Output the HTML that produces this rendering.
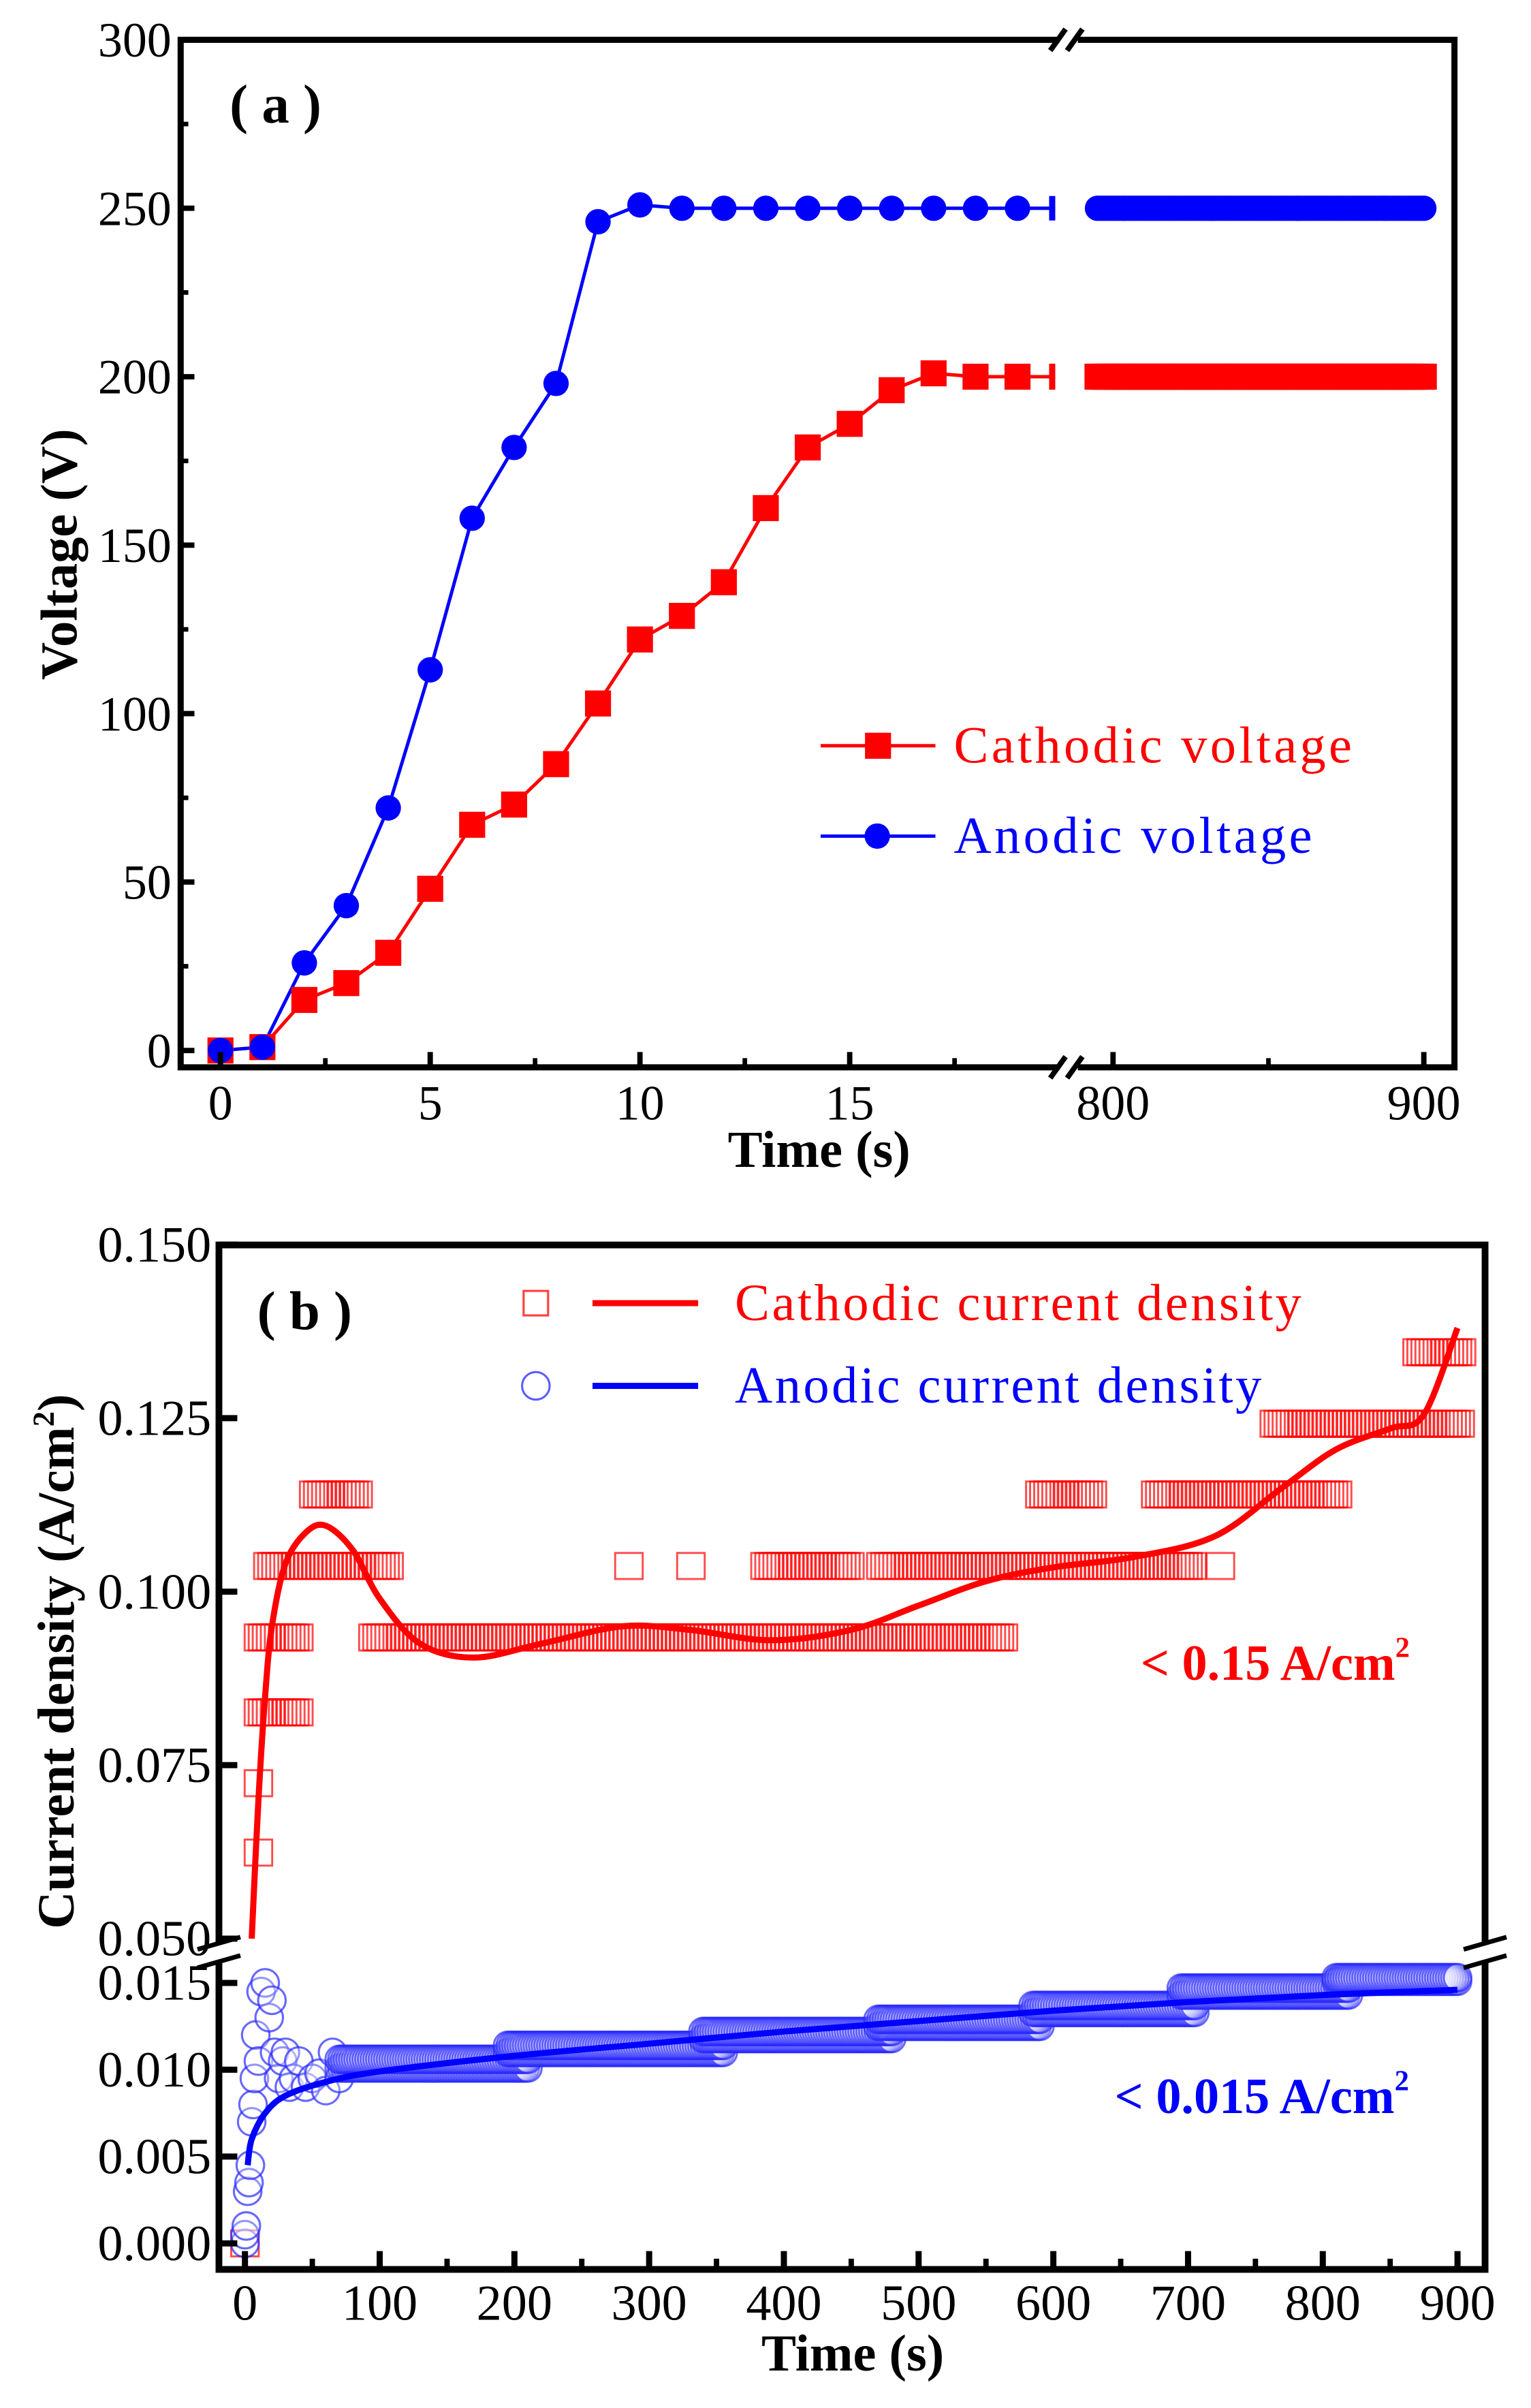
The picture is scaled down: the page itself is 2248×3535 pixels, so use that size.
<!DOCTYPE html>
<html><head><meta charset="utf-8"><style>
html,body{margin:0;padding:0;background:#fff;}
svg{display:block;font-family:"Liberation Serif",serif;}
</style></head><body>
<svg id="fig" width="2248" height="3535" viewBox="0 0 1000 1572.5" preserveAspectRatio="none" xmlns="http://www.w3.org/2000/svg">
<g id="pa"></g>
<g id="pb"></g>
</svg>
<script>
// ---- Panel (a) data ----
const aTime = [0,1,2,3,4,5,6,7,8,9,10,11,12,13,14,15,16,17,18,19];
const aCathodic = [0,1,15,20,29,48,67,73,85,103,122,129,139,161,179,186,196,201,200,200];
const aAnodic = [0,1,26,43,72,113,158,179,198,246,251,250,250,250,250,250,250,250,250,250];
const aLateStart = [795];
const aLateEnd = [900];
const aLateCathodic = [200];
const aLateAnodic = [250];
const aYTicks = [0,50,100,150,200,250,300];
const aXTicksLeft = [0,5,10,15];
const aXTicksRight = [800,900];

// ---- Panel (b) data ----
const catLevel = [0.0624,0.0724,0.0826,0.0934,0.0934,0.1037,0.1037,0.1037,0.1037,0.1037,0.1037,0.1140,0.1140,0.1140,0.1242,0.1345,0.0];
const catStart = [10,10,10,10,95,17,285,331,386,472,724,51,590,676,764,870,0];
const catEnd   = [10,10,40,42,565,108,285,331,449,705,724,85,630,812,903,903,0];
const anoEarlyT = [0,0,1,2,3,4,5,6,7,8,10,12,15,18,20,22,25,28,30,33,36,40,45,50,55,60,65,70];
const anoEarlyV = [0,0.0005,0.001,0.003,0.0035,0.0045,0.007,0.008,0.0095,0.012,0.0105,0.0145,0.015,0.013,0.014,0.011,0.0095,0.0105,0.011,0.009,0.0095,0.0105,0.009,0.0095,0.0098,0.0088,0.011,0.0095];
const anoLevel = [0.0101,0.0106,0.0110,0.0114,0.0118,0.0122,0.0125,0.0129,0.0133,0.0137,0.0143,0.0147,0.0151,0.0153];
const anoStart = [70,70,195,195,340,340,470,470,585,585,695,695,810,810];
const anoEnd   = [210,210,355,355,480,480,590,590,705,705,820,820,900,900];
const catFitT = [5,10,15,20,30,45,60,80,100,130,170,220,280,330,390,450,500,550,600,660,720,770,810,850,875,900];
const catFitV = [0.050,0.070,0.085,0.095,0.104,0.1085,0.1095,0.106,0.099,0.0925,0.0905,0.0925,0.095,0.0945,0.093,0.0945,0.098,0.1015,0.1035,0.105,0.108,0.115,0.1205,0.1235,0.1255,0.138];
const anoFitT = [2,5,15,30,60,100,200,300,400,500,600,700,800,900];
const anoFitV = [0.0045,0.006,0.0075,0.0085,0.0093,0.0099,0.0108,0.0115,0.0122,0.0128,0.0134,0.0139,0.0143,0.0146];
const bYTicksUp = [0.050,0.075,0.100,0.125,0.150];
const bYTicksLo = [0.000,0.005,0.010,0.015];
const bXTicks = [0,100,200,300,400,500,600,700,800,900];

const NS="http://www.w3.org/2000/svg";
function mk(parent,tag,attrs,text){const e=document.createElementNS(NS,tag);for(const k in attrs)e.setAttribute(k,attrs[k]);if(text!==undefined)e.textContent=text;parent.appendChild(e);return e;}
function smoothPath(pts){let d="M"+pts[0][0]+","+pts[0][1];for(let i=0;i<pts.length-1;i++){const p0=pts[Math.max(0,i-1)],p1=pts[i],p2=pts[i+1],p3=pts[Math.min(pts.length-1,i+2)];const c1x=p1[0]+(p2[0]-p0[0])/6,c1y=p1[1]+(p2[1]-p0[1])/6,c2x=p2[0]-(p3[0]-p1[0])/6,c2y=p2[1]-(p3[1]-p1[1])/6;d+=" C"+c1x+","+c1y+" "+c2x+","+c2y+" "+p2[0]+","+p2[1];}return d;}

// ===== Panel A =====
const pa=document.getElementById('pa');
const xA=t=> t<=25 ? 144+27.4*t : 727+(t-800)*2.03;
const yA=v=> 686-v*2.2;
const L=118,R=950,T=26,B=697;
const cp=aTime.map((t,i)=>xA(t)+","+yA(aCathodic[i])).join(" ")+" "+(xA(19.9))+","+yA(200);
let e=mk(pa,'polyline',{points:cp,fill:'none',stroke:'#ff0000','stroke-width':2.2});

const ap=aTime.map((t,i)=>xA(t)+","+yA(aAnodic[i])).join(" ")+" "+(xA(19.9))+","+yA(250);
e=mk(pa,'polyline',{points:ap,fill:'none',stroke:'#0000ff','stroke-width':2.2});

aTime.forEach((t,i)=>{
  let m=mk(pa,'rect',{x:xA(t)-8.5,y:yA(aCathodic[i])-8.5,width:17,height:17,fill:'#ff0000'});
  
  let c=mk(pa,'circle',{cx:xA(t),cy:yA(aAnodic[i]),r:8.3,fill:'#0000ff'});
  
});
mk(pa,'rect',{x:xA(19.9)-4,y:yA(200)-8.5,width:4,height:17,fill:'#ff0000'});
mk(pa,'rect',{x:xA(19.9)-4,y:yA(250)-8,width:4,height:16,fill:'#0000ff'});
aLateStart.forEach((s,i)=>{
  for(let t=s;t<=aLateEnd[i];t+=1){
    let m=mk(pa,'rect',{x:xA(t)-8.5,y:yA(aLateCathodic[i])-8.5,width:17,height:17,fill:'#ff0000'});
    
    let c=mk(pa,'circle',{cx:xA(t),cy:yA(aLateAnodic[i]),r:8.3,fill:'#0000ff'});
    
  }
});
e=mk(pa,'rect',{x:L,y:T,width:R-L,height:B-T,fill:'none',stroke:'#000','stroke-width':4});

[T,B].forEach(y=>{
  mk(pa,'rect',{x:692,y:y-5,width:12,height:10,fill:'#fff'});
  mk(pa,'line',{x1:686,y1:y+7,x2:696,y2:y-7,stroke:'#000','stroke-width':3.5});
  mk(pa,'line',{x1:697,y1:y+7,x2:707,y2:y-7,stroke:'#000','stroke-width':3.5});
});
aYTicks.forEach(v=>{
  mk(pa,'line',{x1:L,y1:yA(v),x2:L+9,y2:yA(v),stroke:'#000','stroke-width':3.5});
  let t=mk(pa,'text',{x:L-6,y:yA(v)+11,'text-anchor':'end','font-size':32},String(v));
  
});
for(let v=25;v<300;v+=50){mk(pa,'line',{x1:L,y1:yA(v),x2:L+5,y2:yA(v),stroke:'#000','stroke-width':3});}
aXTicksLeft.forEach(v=>{
  mk(pa,'line',{x1:xA(v),y1:B,x2:xA(v),y2:B-10,stroke:'#000','stroke-width':3.5});
  let t=mk(pa,'text',{x:xA(v),y:B+34,'text-anchor':'middle','font-size':32},String(v));
  
});
[2.5,7.5,12.5,17.5].forEach(v=>mk(pa,'line',{x1:xA(v),y1:B,x2:xA(v),y2:B-6,stroke:'#000','stroke-width':3}));
aXTicksRight.forEach(v=>{
  mk(pa,'line',{x1:xA(v),y1:B,x2:xA(v),y2:B-10,stroke:'#000','stroke-width':3.5});
  let t=mk(pa,'text',{x:xA(v),y:B+34,'text-anchor':'middle','font-size':32},String(v));
  
});
mk(pa,'line',{x1:xA(850),y1:B,x2:xA(850),y2:B-6,stroke:'#000','stroke-width':3});
e=mk(pa,'text',{x:535,y:762,'text-anchor':'middle','font-size':34,'font-weight':'bold'},'Time (s)');

e=mk(pa,'text',{x:0,y:0,transform:'translate(50,362) rotate(-90)','text-anchor':'middle','font-size':34,'font-weight':'bold'},'Voltage (V)');

e=mk(pa,'text',{x:150,y:80,'font-size':36,'font-weight':'bold'},'( a )');

let lg=mk(pa,'g',{});
mk(lg,'line',{x1:536,y1:487,x2:611,y2:487,stroke:'#ff0000','stroke-width':2.2});
mk(lg,'rect',{x:565,y:478.5,width:17,height:17,fill:'#ff0000'});
e=mk(lg,'text',{x:623,y:498,'font-size':34,fill:'#ff0000',textLength:260},'Cathodic voltage');

mk(lg,'line',{x1:536,y1:546,x2:611,y2:546,stroke:'#0000ff','stroke-width':2.2});
mk(lg,'circle',{cx:573,cy:546,r:8.3,fill:'#0000ff'});
e=mk(lg,'text',{x:623,y:557,'font-size':34,fill:'#0000ff',textLength:234},'Anodic voltage');


// ===== Panel B =====
const pb=document.getElementById('pb');
const BL=143,BR=970,BT=813,BB=1482;
const xB=t=>160+0.88*t;
const yUp=v=>1266-(v-0.05)*4532;
const yLo=v=>1465-v*11340;
const yB=v=> v<0.03 ? yLo(v) : yUp(v);
catLevel.forEach((lv,i)=>{
  for(let t=catStart[i];t<=catEnd[i];t+=3){
    let r=mk(pb,'rect',{x:xB(t)-9,y:yB(lv)-8.5,width:18,height:17,fill:'none',stroke:'rgba(255,0,0,0.7)','stroke-width':1.3});
    
  }
});
anoEarlyT.forEach((t,i)=>{
  let c=mk(pb,'circle',{cx:xB(t),cy:yB(anoEarlyV[i]),r:9,fill:'rgba(255,255,255,0.3)',stroke:'rgba(40,40,255,0.7)','stroke-width':1.4});
  
});
anoLevel.forEach((lv,i)=>{
  for(let t=anoStart[i];t<=anoEnd[i];t+=2){
    let c=mk(pb,'circle',{cx:xB(t),cy:yLo(lv),r:9,fill:'rgba(255,255,255,0.2)',stroke:'rgba(40,40,255,0.7)','stroke-width':1.4});
    
  }
});
e=mk(pb,'path',{d:smoothPath(catFitT.map((t,i)=>[xB(t),yUp(catFitV[i])])),fill:'none',stroke:'#ff0000','stroke-width':4});

e=mk(pb,'path',{d:smoothPath(anoFitT.map((t,i)=>[xB(t),yLo(anoFitV[i])])),fill:'none',stroke:'#0000ff','stroke-width':4});

e=mk(pb,'rect',{x:BL,y:BT,width:BR-BL,height:BB-BT,fill:'none',stroke:'#000','stroke-width':4.4});

[BL,BR].forEach(x=>{
  mk(pb,'rect',{x:x-4,y:1269,width:8,height:11,fill:'#fff'});
  mk(pb,'line',{x1:x-14,y1:1273,x2:x+14,y2:1265,stroke:'#000','stroke-width':3});
  mk(pb,'line',{x1:x-14,y1:1285,x2:x+14,y2:1277,stroke:'#000','stroke-width':3});
});
bYTicksUp.forEach(v=>{
  mk(pb,'line',{x1:BL,y1:yUp(v),x2:BL+12,y2:yUp(v),stroke:'#000','stroke-width':4});
  let t=mk(pb,'text',{x:BL-5,y:yUp(v)+11,'text-anchor':'end','font-size':33},v.toFixed(3));
  
});
bYTicksLo.forEach(v=>{
  mk(pb,'line',{x1:BL,y1:yLo(v),x2:BL+12,y2:yLo(v),stroke:'#000','stroke-width':4});
  let t=mk(pb,'text',{x:BL-5,y:yLo(v)+11,'text-anchor':'end','font-size':33},v.toFixed(3));
  
});
bXTicks.forEach(v=>{
  mk(pb,'line',{x1:xB(v),y1:BB,x2:xB(v),y2:BB-12,stroke:'#000','stroke-width':4});
  let t=mk(pb,'text',{x:xB(v),y:BB+33,'text-anchor':'middle','font-size':33},String(v));
  
});
for(let v=50;v<900;v+=100)mk(pb,'line',{x1:xB(v),y1:BB,x2:xB(v),y2:BB-7,stroke:'#000','stroke-width':3.5});
e=mk(pb,'text',{x:557,y:1548,'text-anchor':'middle','font-size':34,'font-weight':'bold'},'Time (s)');

e=mk(pb,'text',{x:0,y:0,transform:'translate(48,1085) rotate(-90)','text-anchor':'middle','font-size':34,'font-weight':'bold'});

mk(e,'tspan',{},'Current density (A/cm');mk(e,'tspan',{'font-size':20,dy:-13},'2');mk(e,'tspan',{dy:13},')');
e=mk(pb,'text',{x:168,y:868,'font-size':36,'font-weight':'bold'},'( b )');

lg=mk(pb,'g',{});
mk(lg,'rect',{x:342,y:843,width:16,height:16,fill:'none',stroke:'rgba(255,0,0,0.75)','stroke-width':1.4});
mk(lg,'line',{x1:387,y1:851,x2:456,y2:851,stroke:'#ff0000','stroke-width':4});
e=mk(lg,'text',{x:480,y:862,'font-size':34,fill:'#ff0000',textLength:370},'Cathodic current density');

mk(lg,'circle',{cx:350,cy:905,r:9,fill:'none',stroke:'rgba(40,40,255,0.75)','stroke-width':1.4});
mk(lg,'line',{x1:387,y1:905,x2:456,y2:905,stroke:'#0000ff','stroke-width':4});
e=mk(lg,'text',{x:480,y:916,'font-size':34,fill:'#0000ff',textLength:344},'Anodic current density');

e=mk(pb,'text',{x:745,y:1097,'font-size':33,'font-weight':'bold',fill:'#ff0000'});

mk(e,'tspan',{},'< 0.15 A/cm');mk(e,'tspan',{'font-size':19,dy:-15},'2');
e=mk(pb,'text',{x:728,y:1380,'font-size':33,'font-weight':'bold',fill:'#0000ff'});

mk(e,'tspan',{},'< 0.015 A/cm');mk(e,'tspan',{'font-size':19,dy:-15},'2');
</script>
</body></html>
